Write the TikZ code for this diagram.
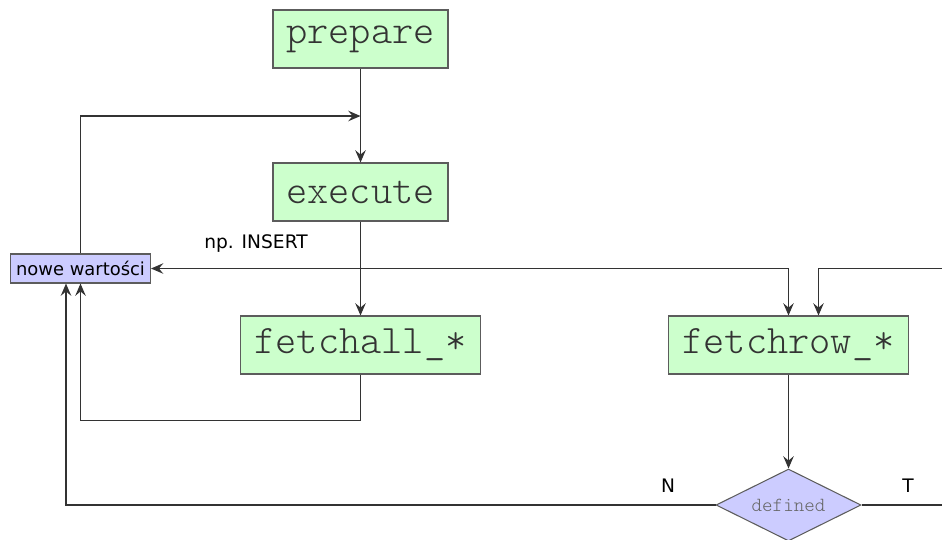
\documentclass[tikz,border=0pt]{standalone}
\usepackage{fontspec}
\newfontfamily\sansfnt{DejaVu Sans}
\newfontfamily\monofnt{Latin Modern Mono Light}
\usetikzlibrary{shapes.geometric,arrows.meta,calc}

\definecolor{stepgreen}{RGB}{204,255,204}
\definecolor{valblue}{RGB}{204,204,255}
\definecolor{wire}{RGB}{51,51,51}

\tikzstyle{call} = [rectangle, draw=wire!80, fill=stepgreen, line width=0.6pt,
    minimum width=3.5cm, minimum height=1.16cm, inner sep=0pt,
    text=wire, font=\monofnt\fontsize{23}{26}\selectfont]
\tikzstyle{wcall} = [call, minimum width=4.8cm]
\tikzstyle{vals} = [rectangle, draw=wire!80, fill=valblue, line width=0.6pt,
    minimum width=2.8cm, minimum height=0.58cm, inner sep=0pt,
    font=\sansfnt\fontsize{10.2}{12}\selectfont]
\tikzstyle{test} = [diamond, aspect=2, draw=wire!80, fill=valblue, line width=0.6pt,
    minimum width=2.9cm, minimum height=1.44cm, inner sep=0pt,
    text=black!60, font=\monofnt\fontsize{11.4}{13}\selectfont]
\tikzstyle{lbl} = [font=\sansfnt\fontsize{10.6}{12}\selectfont]
\tikzstyle{line} = [draw=wire, line width=0.65pt]
\tikzstyle{arr} = [line, -{Stealth[length=7pt,width=6pt,inset=2.5pt]}]

\begin{document}
\begin{tikzpicture}[x=0.02cm,y=-0.02cm]
	\useasboundingbox (0,0) rectangle (942,539);
	%
	\node [call] (prep) at (360.5,39) {prepare};
	\node [call] (exec) at (360.5,192) {execute};
	\node [wcall] (fall) at (360.5,345) {fetchall\_*};
	\node [wcall] (frow) at (788.5,345) {fetchrow\_*};
	\node [vals] (nowe) at (80.5,268.5) {nowe wartości};
	\node [test] (def) at (788.5,505) {defined};
	%
	\coordinate (merge) at (360.5,116);
	\coordinate (split) at (360.5,268.5);
	\coordinate (rin) at (942,268.5);
	\coordinate (tout) at (942,505);
	%
	\node [lbl] (ins) at (256,244) {np. INSERT};
	\node [lbl] (nlbl) at (668,486) {N};
	\node [lbl] (tlbl) at (908,486) {T};
	%
	\draw [arr] (prep) -- (exec);
	\draw [arr] (nowe.north) |- (merge);
	\draw [arr] (exec) -- (fall);
	\draw [arr] (split) -- (nowe.east);
	\draw [arr] (split) -| (frow.north);
	\draw [arr] (rin) -| ($(frow.north)+(30,0)$);
	\draw [arr] (fall.south) -- ++(0,46) -| (nowe.south);
	\draw [arr] (frow) -- (def);
	\draw [arr] (def.west) -| ($(nowe.south)+(-14.5,0)$);
	\draw [line] (def.east) -- (tout);
\end{tikzpicture}
\end{document}
